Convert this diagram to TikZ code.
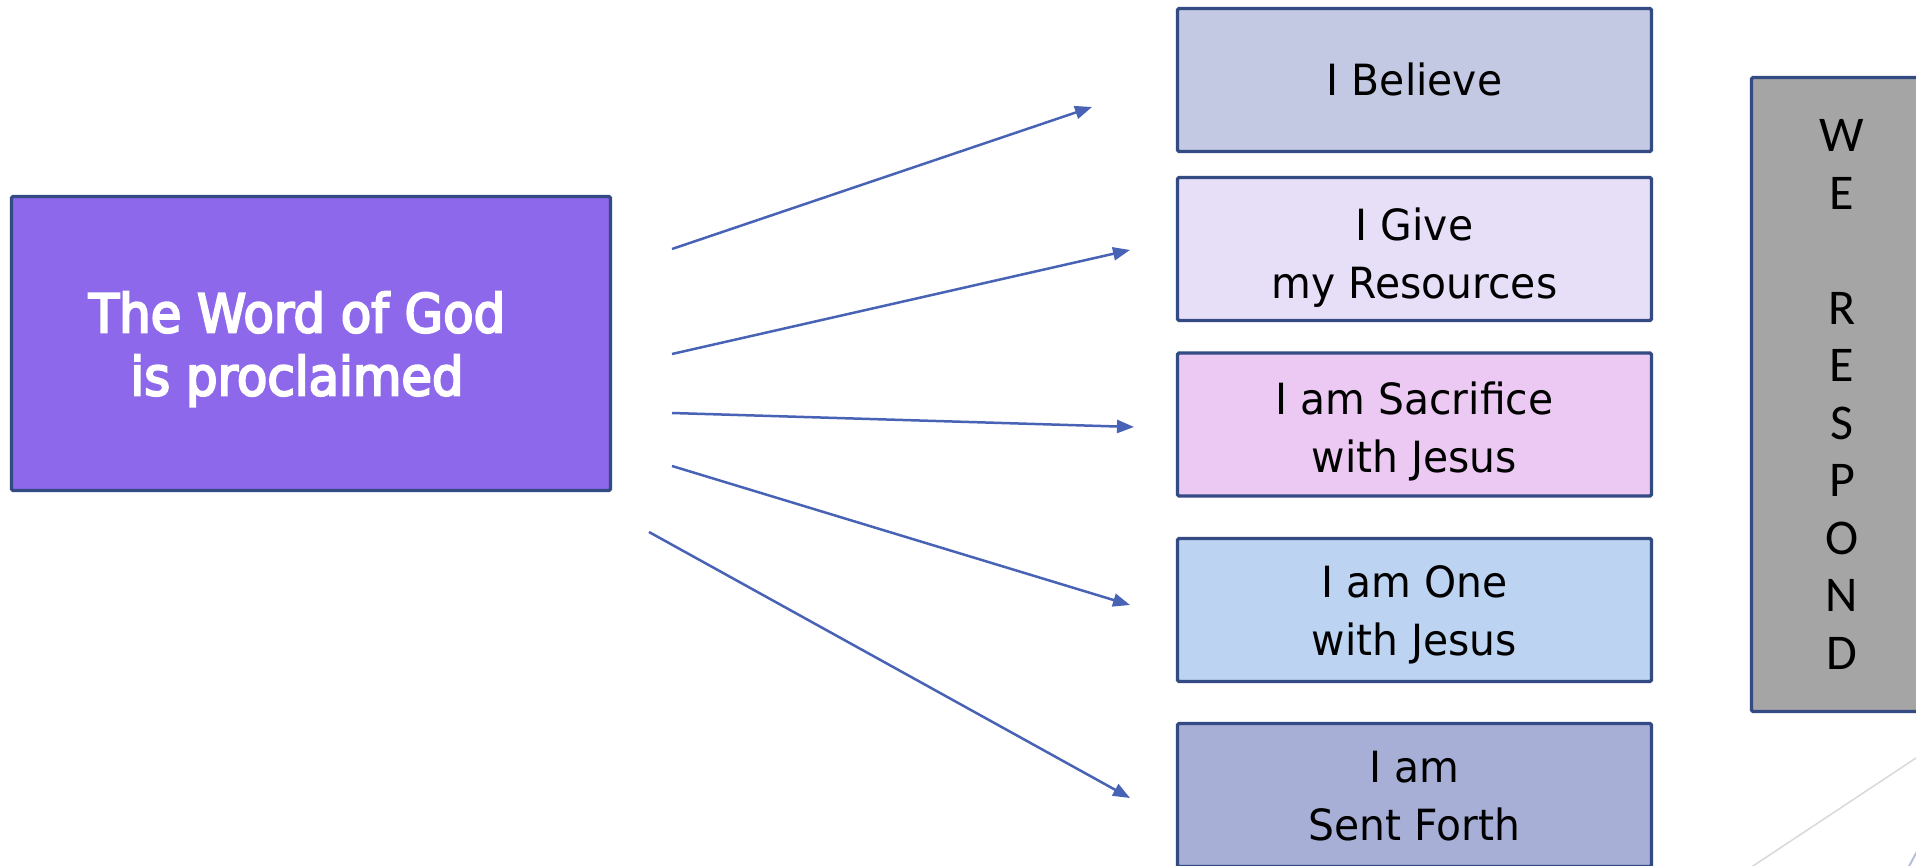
\documentclass[tikz,border=0pt]{standalone}
\usepackage{fontspec}
\usetikzlibrary{arrows.meta}
\newfontfamily\boxfont[FakeStretch=0.95]{DejaVu Sans}
\newfontfamily\wordfont[FakeStretch=0.93,FakeBold=4]{DejaVu Sans}
\newfontfamily\respfont{Carlito}
\definecolor{wordfill}{HTML}{8D68EA}
\definecolor{bordc}{HTML}{344A83}
\definecolor{fillA}{HTML}{C3C8E3}
\definecolor{fillB}{HTML}{E7DFF8}
\definecolor{fillC}{HTML}{EBC9F2}
\definecolor{fillD}{HTML}{BCD3F1}
\definecolor{fillE}{HTML}{A7AFD6}
\definecolor{grayfill}{HTML}{A5A5A5}
\definecolor{arrowc}{HTML}{4863B5}
\definecolor{lightline}{HTML}{D9D9D9}
\definecolor{lavline}{HTML}{B9BEE0}
\tikzset{
  framebox/.style={draw=bordc, line width=3.3pt, rounded corners=1.5pt, inner sep=0pt, align=center, text depth=0pt},
  rbox/.style={framebox, minimum width=474pt, minimum height=143pt},
  boxtext/.style={align=center, inner sep=0pt, text depth=0pt, font=\boxfont\fontsize{43}{58}\selectfont},
  wordbox/.style={framebox, fill=wordfill, minimum width=599pt, minimum height=294pt},
  wordtext/.style={text=white, align=center, inner sep=0pt, text depth=0pt, font=\wordfont\fontsize{53.5}{63}\selectfont},
  respbox/.style={framebox, fill=grayfill, minimum width=181pt, minimum height=634pt, font=\respfont\fontsize{50}{57.5}\selectfont},
  conn/.style={draw=arrowc, line width=2.5pt, -{Triangle[length=17pt,width=13pt]}},
}
\begin{document}
\begin{tikzpicture}[x=1pt,y=-1pt]
\useasboundingbox (0,0) rectangle (1916,866);
\clip (0,0) rectangle (1916,866);
\fill[white] (0,0) rectangle (1916,866);

% left box
\node[wordbox, label={[wordtext, xshift=-14pt]center:{The Word of God\\is proclaimed}}] (word) at (311,343.5) {};

% right boxes
\node[rbox, fill=fillA, label={[boxtext, yshift=1pt]center:{I Believe}}] (believe) at (1414.5,80) {};
\node[rbox, fill=fillB, label={[boxtext, yshift=-4pt]center:{I Give\\my Resources}}] (give) at (1414.5,249) {};
\node[rbox, fill=fillC, label={[boxtext, yshift=-2.5pt]center:{I am Sacrifice\\with Jesus}}] (sacrifice) at (1414.5,424.5) {};
\node[rbox, fill=fillD, label={[boxtext, yshift=-1pt]center:{I am One\\with Jesus}}] (one) at (1414.5,610) {};
\node[rbox, fill=fillE, label={[boxtext, yshift=-1pt]center:{I am\\Sent Forth}}] (sent) at (1414.5,795) {};

% we respond
\node[respbox] (respond) at (1842,394.5) {W\\E\\\mbox{}\\R\\E\\S\\P\\O\\N\\D};

% arrows
\coordinate (s1) at (672,249);  \coordinate (e1) at (1092,107);
\coordinate (s2) at (672,354);  \coordinate (e2) at (1130,250);
\coordinate (s3) at (672,413);  \coordinate (e3) at (1134,427);
\coordinate (s4) at (672,466);  \coordinate (e4) at (1130,605);
\coordinate (s5) at (649,532);  \coordinate (e5) at (1130,798);
\draw[conn] (s1) -- (e1);
\draw[conn] (s2) -- (e2);
\draw[conn] (s3) -- (e3);
\draw[conn] (s4) -- (e4);
\draw[conn] (s5) -- (e5);

% decoration bottom right
\coordinate (d1) at (1740,874.6);
\coordinate (d2) at (1930,748.7);
\draw[lightline, line width=1.5pt] (d1) -- (d2);
\coordinate (d3) at (1906,872);
\coordinate (d4) at (1922,842);
\draw[lavline, line width=2pt] (d3) -- (d4);
\end{tikzpicture}
\end{document}
